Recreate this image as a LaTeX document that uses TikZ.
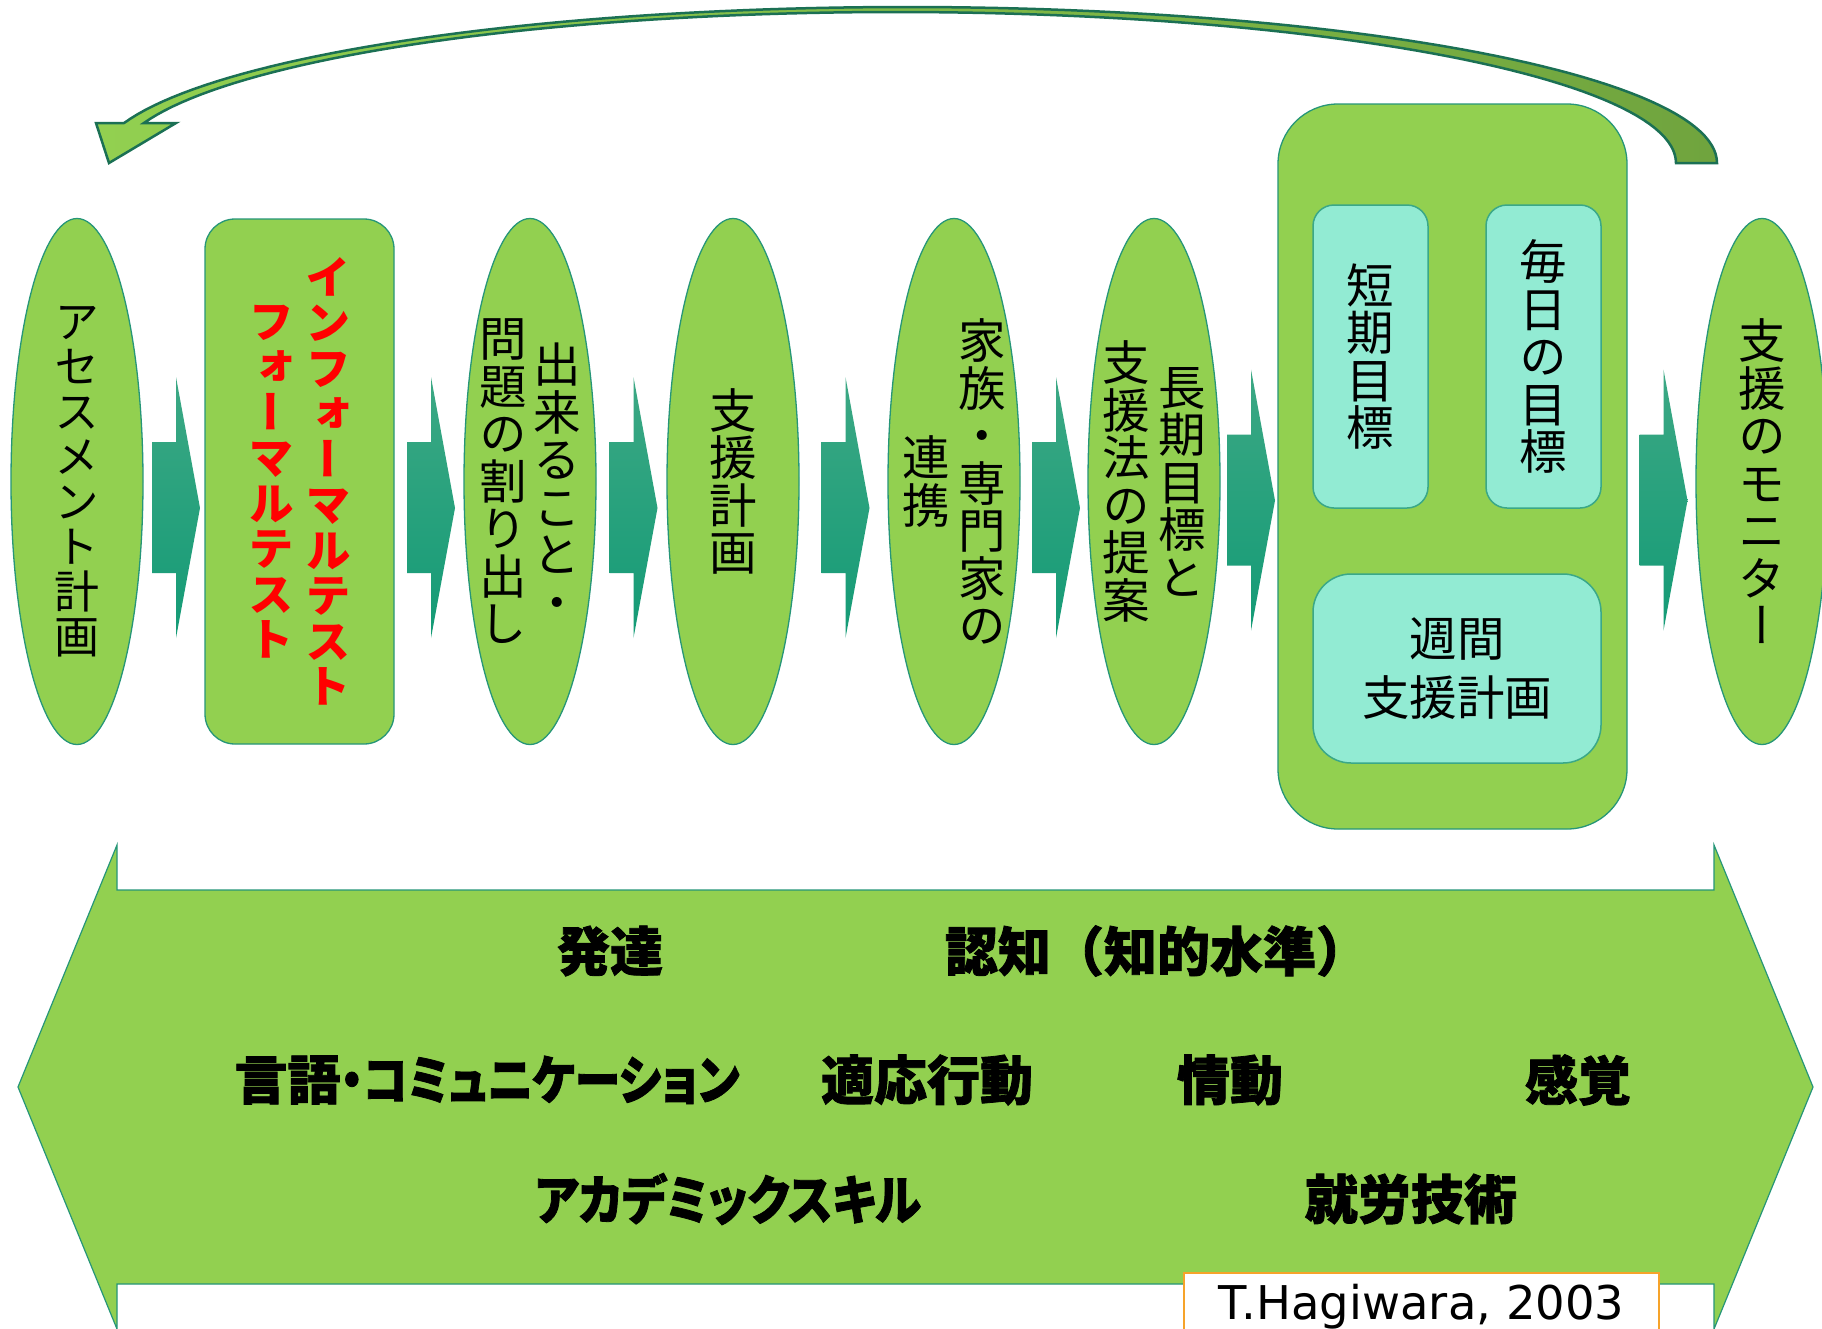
\documentclass[tikz,border=0pt]{standalone}
\usepackage{fontspec}
\usepackage{graphicx}
\usetikzlibrary{shapes.geometric,calc}
\newfontfamily\jpv[RawFeature=+vert]{Noto Sans CJK JP}
\newfontfamily\jpr{Noto Sans CJK JP}
\newfontfamily\jpb[RawFeature=+palt,BoldFeatures={FakeBold=1.5}]{Noto Sans CJK JP}
\newfontfamily\jpbf[BoldFeatures={FakeBold=1.5}]{Noto Sans CJK JP}
\newfontfamily\latn{DejaVu Sans}
\definecolor{lgreen}{HTML}{92D050}
\definecolor{edge}{RGB}{38,150,120}
\definecolor{aqua}{HTML}{92EBD3}
\definecolor{aqedge}{RGB}{58,168,136}
\definecolor{arrtop}{RGB}{60,168,132}
\definecolor{arrbot}{RGB}{20,155,118}
\definecolor{cdark}{RGB}{27,112,84}
\definecolor{olivegr}{RGB}{112,164,62}
\definecolor{corange}{RGB}{246,163,42}
\newcommand\vfont{\jpv\fontsize{47.5}{47.5}\selectfont}
\newcommand\vfontsm{\jpv\fontsize{45}{45}\selectfont}
\newcommand\btfont{\jpb\bfseries\fontsize{53}{53}\selectfont}
% one vertical column of characters, rows exactly 1em apart, centred on the axis
\newcommand\vcol[1]{$\vcenter{\baselineskip=1em\lineskiplimit=-\maxdimen\lineskip=0pt\let\\\cr\halign{\hfil##\hfil\cr#1\crcr}}$}
\newcommand\blockarr[2]{\path[blockarrow] ($(#1.east)!0.5!(#2.west)+(-22,-39.5)$) -- ++(24,0) -- ++(0,-65) -- ++(24,131) -- ++(-24,130) -- ++(0,-65) -- ++(-24,0) -- cycle;}
\begin{document}
\begin{tikzpicture}[x=1pt,y=-1pt,
  ell/.style={ellipse, draw=edge, line width=1.3pt, fill=lgreen, minimum width=132pt, minimum height=526pt, inner sep=0pt, font=\vfont},
  rbox/.style={rectangle, draw=edge, line width=1.3pt, fill=lgreen, inner sep=0pt, font=\vfont},
  abox/.style={rectangle, draw=aqedge, line width=1.5pt, fill=aqua, inner sep=0pt, rounded corners=21pt, minimum width=115pt, minimum height=303pt, font=\vfont},
  btext/.style={font=\btfont, inner sep=0pt},
  blockarrow/.style={top color=arrtop, bottom color=arrbot, draw=none},
  curvearr/.style={draw=cdark, line width=2.5pt, left color=lgreen, right color=olivegr, line join=miter},
  bigarrow/.style={draw=edge, line width=1.2pt, fill=lgreen}
]
\useasboundingbox (0,0) rectangle (1822,1328);
\fill[white] (0,0) rectangle (1822,1328);

% bottom double arrow
\path[bigarrow] (18,1087) -- (117,845) -- (117,890) -- (1714,890) -- (1714,845) -- (1813,1087)
  -- (1714,1329) -- (1714,1284) -- (117,1284) -- (117,1329) -- cycle;
\node[btext] (hattatsu) at (610,951) {発達};
\node[btext, font=\jpbf\bfseries\fontsize{53}{53}\selectfont] (ninchi) at (1157,951) {認知（知的水準）};
\node[btext] (gengo) at (487,1080) {言語\scalebox{0.86}[1]{・コミュニケーション}};
\node[btext] (tekiou) at (927,1080) {適応行動};
\node[btext] (joudou) at (1230,1080) {情動};
\node[btext] (kankaku) at (1578,1080) {感覚};
\node[btext] (academic) at (728,1199) {\scalebox{0.885}[1]{アカデミックスキル}};
\node[btext] (shuurou) at (1411,1199) {就労技術};

% flow nodes
\node[ell, font=\vfontsm] (asm) at (77,481.5) {\makebox[0pt]{\vcol{ア\\セ\\ス\\メ\\ン\\ト\\計\\画}}};
\node[rbox, rounded corners=30pt, minimum width=189pt, minimum height=525pt, font=\jpv\fontsize{45.5}{45.5}\selectfont] (inf) at (299.5,481.5)
  {\makebox[0pt]{\color{red}\bfseries\vcol{フ\\ォ\\ー\\マ\\ル\\テ\\ス\\ト}\hspace{12pt}\vcol{イ\\ン\\フ\\ォ\\ー\\マ\\ル\\テ\\ス\\ト}}};
\node[ell] (dekiru) at (530,481.5) {\makebox[0pt]{\vcol{問\\題\\の\\割\\り\\出\\し}\hspace{6.5pt}\vcol{出\\来\\る\\こ\\と\\・}}};
\node[ell] (shien) at (733,481.5) {\makebox[0pt]{\vcol{支\\援\\計\\画}}};
\node[ell] (kazoku) at (954,481.5) {\makebox[0pt]{\vcol{連\\携}\hspace{8.5pt}\vcol{家\\族\\・\\専\\門\\家\\の}}};
\node[ell] (chouki) at (1154,481.5) {\makebox[0pt]{\vcol{支\\援\\法\\の\\提\\案}\hspace{8.5pt}\vcol{長\\期\\目\\標\\と}}};
\node[rbox, rounded corners=60pt, minimum width=349pt, minimum height=725pt] (plan) at (1452.5,466.5) {};
\node[abox] (tanki) at (1370.5,356.5) {\makebox[0pt]{\vcol{短\\期\\目\\標}}};
\node[abox] (mainichi) at (1543.5,356.5) {\makebox[0pt]{\vcol{毎\\日\\の\\目\\標}}};
\node[abox, rounded corners=38pt, minimum width=288pt, minimum height=189pt, align=center,
  font=\jpr\fontsize{47.5}{59}\selectfont] (shuukan) at (1457,668.5) {週間\\支援計画};
\node[ell] (monitor) at (1762,481.5) {\makebox[0pt]{\vcol{支\\援\\の\\モ\\ニ\\タ\\ー}}};

% block arrows between the steps
\blockarr{asm}{inf}
\blockarr{inf}{dekiru}
\blockarr{dekiru}{shien}
\blockarr{shien}{kazoku}
\blockarr{kazoku}{chouki}
\blockarr{chouki}{plan}
\blockarr{plan}{monitor}

% curved return arrow
\path[curvearr] (109,163) -- (96,123) -- (124,123)
  -- plot[domain=-165.14:0, samples=100, variable=\t] ({907+810*cos(\t)},{163+156*sin(\t)})
  -- (1676,163)
  -- plot[domain=0:-164.64, samples=100, variable=\t] ({896+780*cos(\t)},{163+151*sin(\t)})
  -- (176,123) -- cycle;

% citation
\node[draw=corange, line width=2pt, fill=white, minimum width=475pt, minimum height=58pt, inner sep=0pt,
  text height=45pt, text depth=10pt, font=\latn\fontsize{46.5}{50}\selectfont] (cite) at (1421.5,1301.5) {T.Hagiwara, 2003};
\end{tikzpicture}
\end{document}
